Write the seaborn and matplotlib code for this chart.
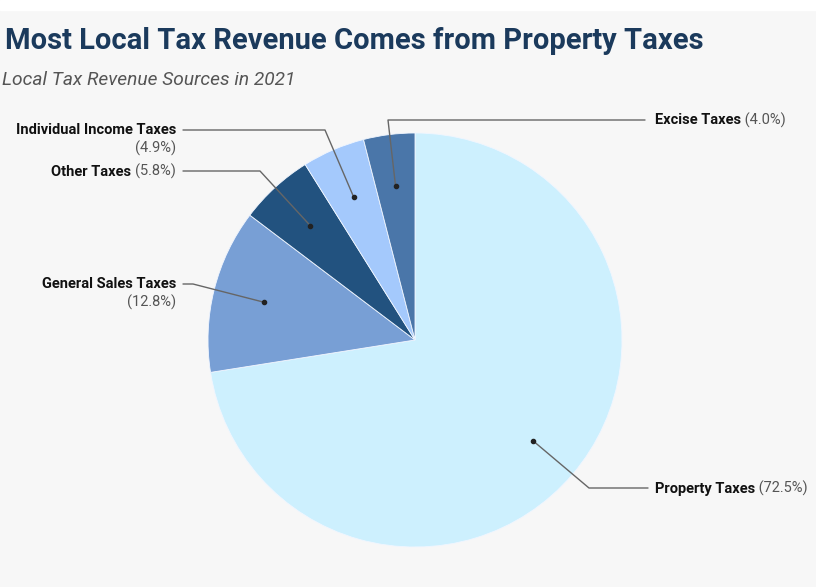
import numpy as np
import seaborn as sns
import matplotlib.pyplot as plt

# data
categories = ['Property Taxes', 'General Sales Taxes', 'Other Taxes',
              'Individual Income Taxes', 'Excise Taxes']
shares = [72.5, 12.8, 5.8, 4.9, 4.0]
colors = ['#cdf0fe', '#789fd5', '#22527f', '#a4c9fc', '#4a76a9']

title = 'Most Local Tax Revenue Comes from Property Taxes'
subtitle = 'Local Tax Revenue Sources in 2021'

sns.set_theme(style='white')
plt.rcParams['font.family'] = ['Roboto', 'DejaVu Sans']

W, H = 816, 587
fig = plt.figure(figsize=(W / 100, H / 100), dpi=100, facecolor='#f7f7f7')
ax = fig.add_axes([0, 0, 1, 1])
ax.set_facecolor('#f7f7f7')


def Y(py):
    return H - py


cx, cy, r = 415, Y(340), 207
wedges, _ = ax.pie(shares, colors=colors, startangle=90, counterclock=False,
                   center=(cx, cy), radius=r,
                   wedgeprops=dict(linewidth=0.6, edgecolor='#f0f6ff'))
ax.set_xlim(0, W)
ax.set_ylim(0, H)
ax.set_aspect('auto')
ax.axis('off')

# white strip on top
fig.patches.append(plt.Rectangle((0, 1 - 10 / H), 1, 10 / H, transform=fig.transFigure,
                                 color='white', zorder=0))

fig.text(5 / W, 1 - 49 / H, title, fontsize=21.0, fontweight='bold', color='#1b3a5c',
         va='baseline', ha='left')
fig.text(2 / W, 1 - 85 / H, subtitle, fontsize=13.8, style='italic', color='#555555',
         va='baseline', ha='left')

# leader lines: elbow (px), line end x, side
layout = {
    'Property Taxes': ((589, 488), 648, 'right'),
    'General Sales Taxes': ((193, 284), 183, 'left'),
    'Other Taxes': ((260, 171), 183, 'left'),
    'Individual Income Taxes': ((325, 130), 183, 'left'),
    'Excise Taxes': ((388, 120), 645, 'right'),
}
two_line = {'General Sales Taxes', 'Individual Income Taxes'}

renderer = fig.canvas.get_renderer()
fs = 10.5
for w, name, val in zip(wedges, categories, shares):
    mid = np.deg2rad((w.theta1 + w.theta2) / 2)
    dx = cx + 0.75 * r * np.cos(mid)
    dy = cy + 0.75 * r * np.sin(mid)
    (ex, ey), end_x, side = layout[name]
    ax.plot([dx, ex, end_x], [dy, Y(ey), Y(ey)], color='#666666', lw=1, zorder=3)
    ax.plot(dx, dy, 'o', color='#222222', ms=3, zorder=4)
    pct = f'({val:.1f}%)'
    ty = Y(ey) - 0.5
    if side == 'right':
        t = ax.text(655, ty, name, fontsize=fs, fontweight='bold', color='#111111',
                    ha='left', va='center')
        bb = t.get_window_extent(renderer)
        ax.text(bb.x1, ty, ' ' + pct, fontsize=fs, color='#555555', ha='left', va='center')
    elif name in two_line:
        ax.text(176, ty, name, fontsize=fs, fontweight='bold', color='#111111',
                ha='right', va='center')
        ax.text(176, ty - 17.5, pct, fontsize=fs, color='#555555', ha='right', va='center')
    else:
        t = ax.text(176, ty, pct, fontsize=fs, color='#555555', ha='right', va='center')
        bb = t.get_window_extent(renderer)
        ax.text(bb.x0, ty, name + ' ', fontsize=fs, fontweight='bold', color='#111111',
                ha='right', va='center')

fig.savefig('out.png', dpi=100, facecolor=fig.get_facecolor())
